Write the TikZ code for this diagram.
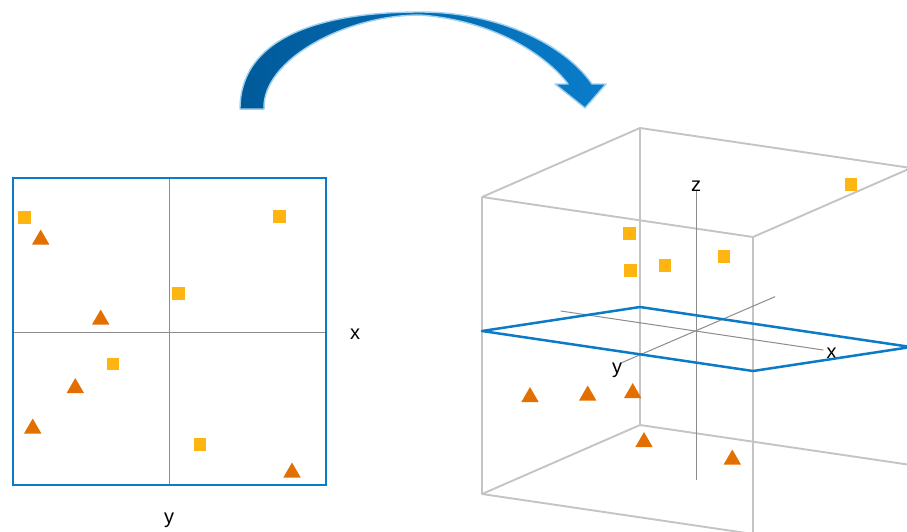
\documentclass[tikz,border=0pt]{standalone}
\usepackage{fontspec}
\setmainfont{Liberation Sans}
\usetikzlibrary{shapes.geometric}
\definecolor{sqc}{HTML}{FFB511}
\definecolor{tric}{HTML}{E36F00}
\definecolor{planeblue}{HTML}{0C7BC7}
\definecolor{boxgray}{HTML}{C4C4C4}
\definecolor{axisgray}{HTML}{8C8C8C}
\definecolor{arrdark}{HTML}{005A9A}
\definecolor{arrblue}{HTML}{0A7DCB}
\definecolor{arrlight}{HTML}{9DD1EE}
\begin{document}
\begin{tikzpicture}[x=1pt,y=-1pt,
  sqmark/.style={rectangle, fill=sqc, minimum size=12.5pt, inner sep=0pt},
  trimark/.style={regular polygon, regular polygon sides=3, fill=tric, minimum size=20pt, inner sep=0pt},
  lbl/.style={font=\fontsize{20}{24}\selectfont, inner sep=0pt},
  frame2d/.style={draw=planeblue, line width=2.6pt},
  boxline/.style={draw=boxgray, line width=1.9pt, line join=round},
  axisline/.style={draw=axisgray, line width=1pt},
  planeline/.style={draw=planeblue, line width=2.5pt, line join=round}]
\useasboundingbox (0,0) rectangle (907,531);
\clip (0,0) rectangle (907,531);

% ---------- curved arrow ----------
\fill[left color=arrdark, right color=arrblue, draw=arrlight, line width=1.4pt, line join=round]
  (240,109) .. controls (240,40) and (315,12) .. (420,12)
  .. controls (500,12) and (565,45) .. (592,84)
  -- (606,84) -- (585,108) -- (555,84) -- (568,84)
  .. controls (550,60) and (500,21) .. (420,15)
  .. controls (345,15) and (262,60) .. (264,109) -- cycle;

% ---------- left 2D panel ----------
\coordinate (LTL) at (13,178);
\coordinate (LBR) at (326,485);
\coordinate (LVt) at (169,178);
\coordinate (LVb) at (169,485);
\coordinate (LHl) at (13,332);
\coordinate (LHr) at (326,332);
\draw[axisline] (LVt) -- (LVb);
\draw[axisline] (LHl) -- (LHr);
\draw[frame2d] (LTL) rectangle (LBR);
\node[lbl] (lx) at (355,334) {x};
\node[lbl] (ly) at (169,520) {y};

\node[sqmark] (ls1) at (24.7,217.7) {};
\node[sqmark] (ls2) at (279.7,216.7) {};
\node[sqmark] (ls3) at (178.3,293.7) {};
\node[sqmark] (ls4) at (113,364) {};
\node[sqmark] (ls5) at (200,444.7) {};
\node[trimark] (lt1) at (40.7,239.5) {};
\node[trimark] (lt2) at (100.7,319.5) {};
\node[trimark] (lt3) at (75.3,388) {};
\node[trimark] (lt4) at (32.7,428.5) {};
\node[trimark] (lt5) at (292,472.5) {};

% ---------- right 3D panel ----------
\coordinate (A) at (640,128);
\coordinate (B) at (482,197);
\coordinate (C) at (753,237);
\coordinate (D) at (911,168);
\coordinate (E) at (640,425);
\coordinate (F) at (482,494);
\coordinate (G) at (753,534);
\coordinate (H) at (911,465);
\draw[boxline] (A) -- (B) -- (C) -- (D) -- cycle;
\draw[boxline] (A) -- (E);
\draw[boxline] (B) -- (F);
\draw[boxline] (C) -- (G);
\draw[boxline] (E) -- (F) -- (G);
\draw[boxline] (E) -- (H);

% axes
\coordinate (Zt) at (696.7,190);
\coordinate (Zb) at (696.7,480);
\coordinate (Xa) at (560.7,311);
\coordinate (Xb) at (823.3,350);
\coordinate (Ya) at (775,296.7);
\coordinate (Yb) at (621.7,362.7);
\draw[axisline] (Zt) -- (Zb);
\draw[axisline] (Xa) -- (Xb);
\draw[axisline] (Ya) -- (Yb);
\node[lbl] (rz) at (696,186) {z};
\node[lbl] (rx) at (831.5,353.5) {x};
\node[lbl] (ry) at (617,370.5) {y};

% plane
\coordinate (P1) at (482,331);
\coordinate (P2) at (640,307);
\coordinate (P3) at (911,347);
\coordinate (P4) at (753,371);
\draw[planeline] (P1) -- (P2) -- (P3) -- (P4) -- cycle;

\node[sqmark] (rs1) at (629.3,233.3) {};
\node[sqmark] (rs2) at (630.7,270.7) {};
\node[sqmark] (rs3) at (665,265.3) {};
\node[sqmark] (rs4) at (724,256.3) {};
\node[sqmark] (rs5) at (851,184.7) {};
\node[trimark] (rt1) at (530,397) {};
\node[trimark] (rt2) at (587.7,395.5) {};
\node[trimark] (rt3) at (632.7,393) {};
\node[trimark] (rt4) at (644,442) {};
\node[trimark] (rt5) at (732.3,459.5) {};
\end{tikzpicture}
\end{document}
